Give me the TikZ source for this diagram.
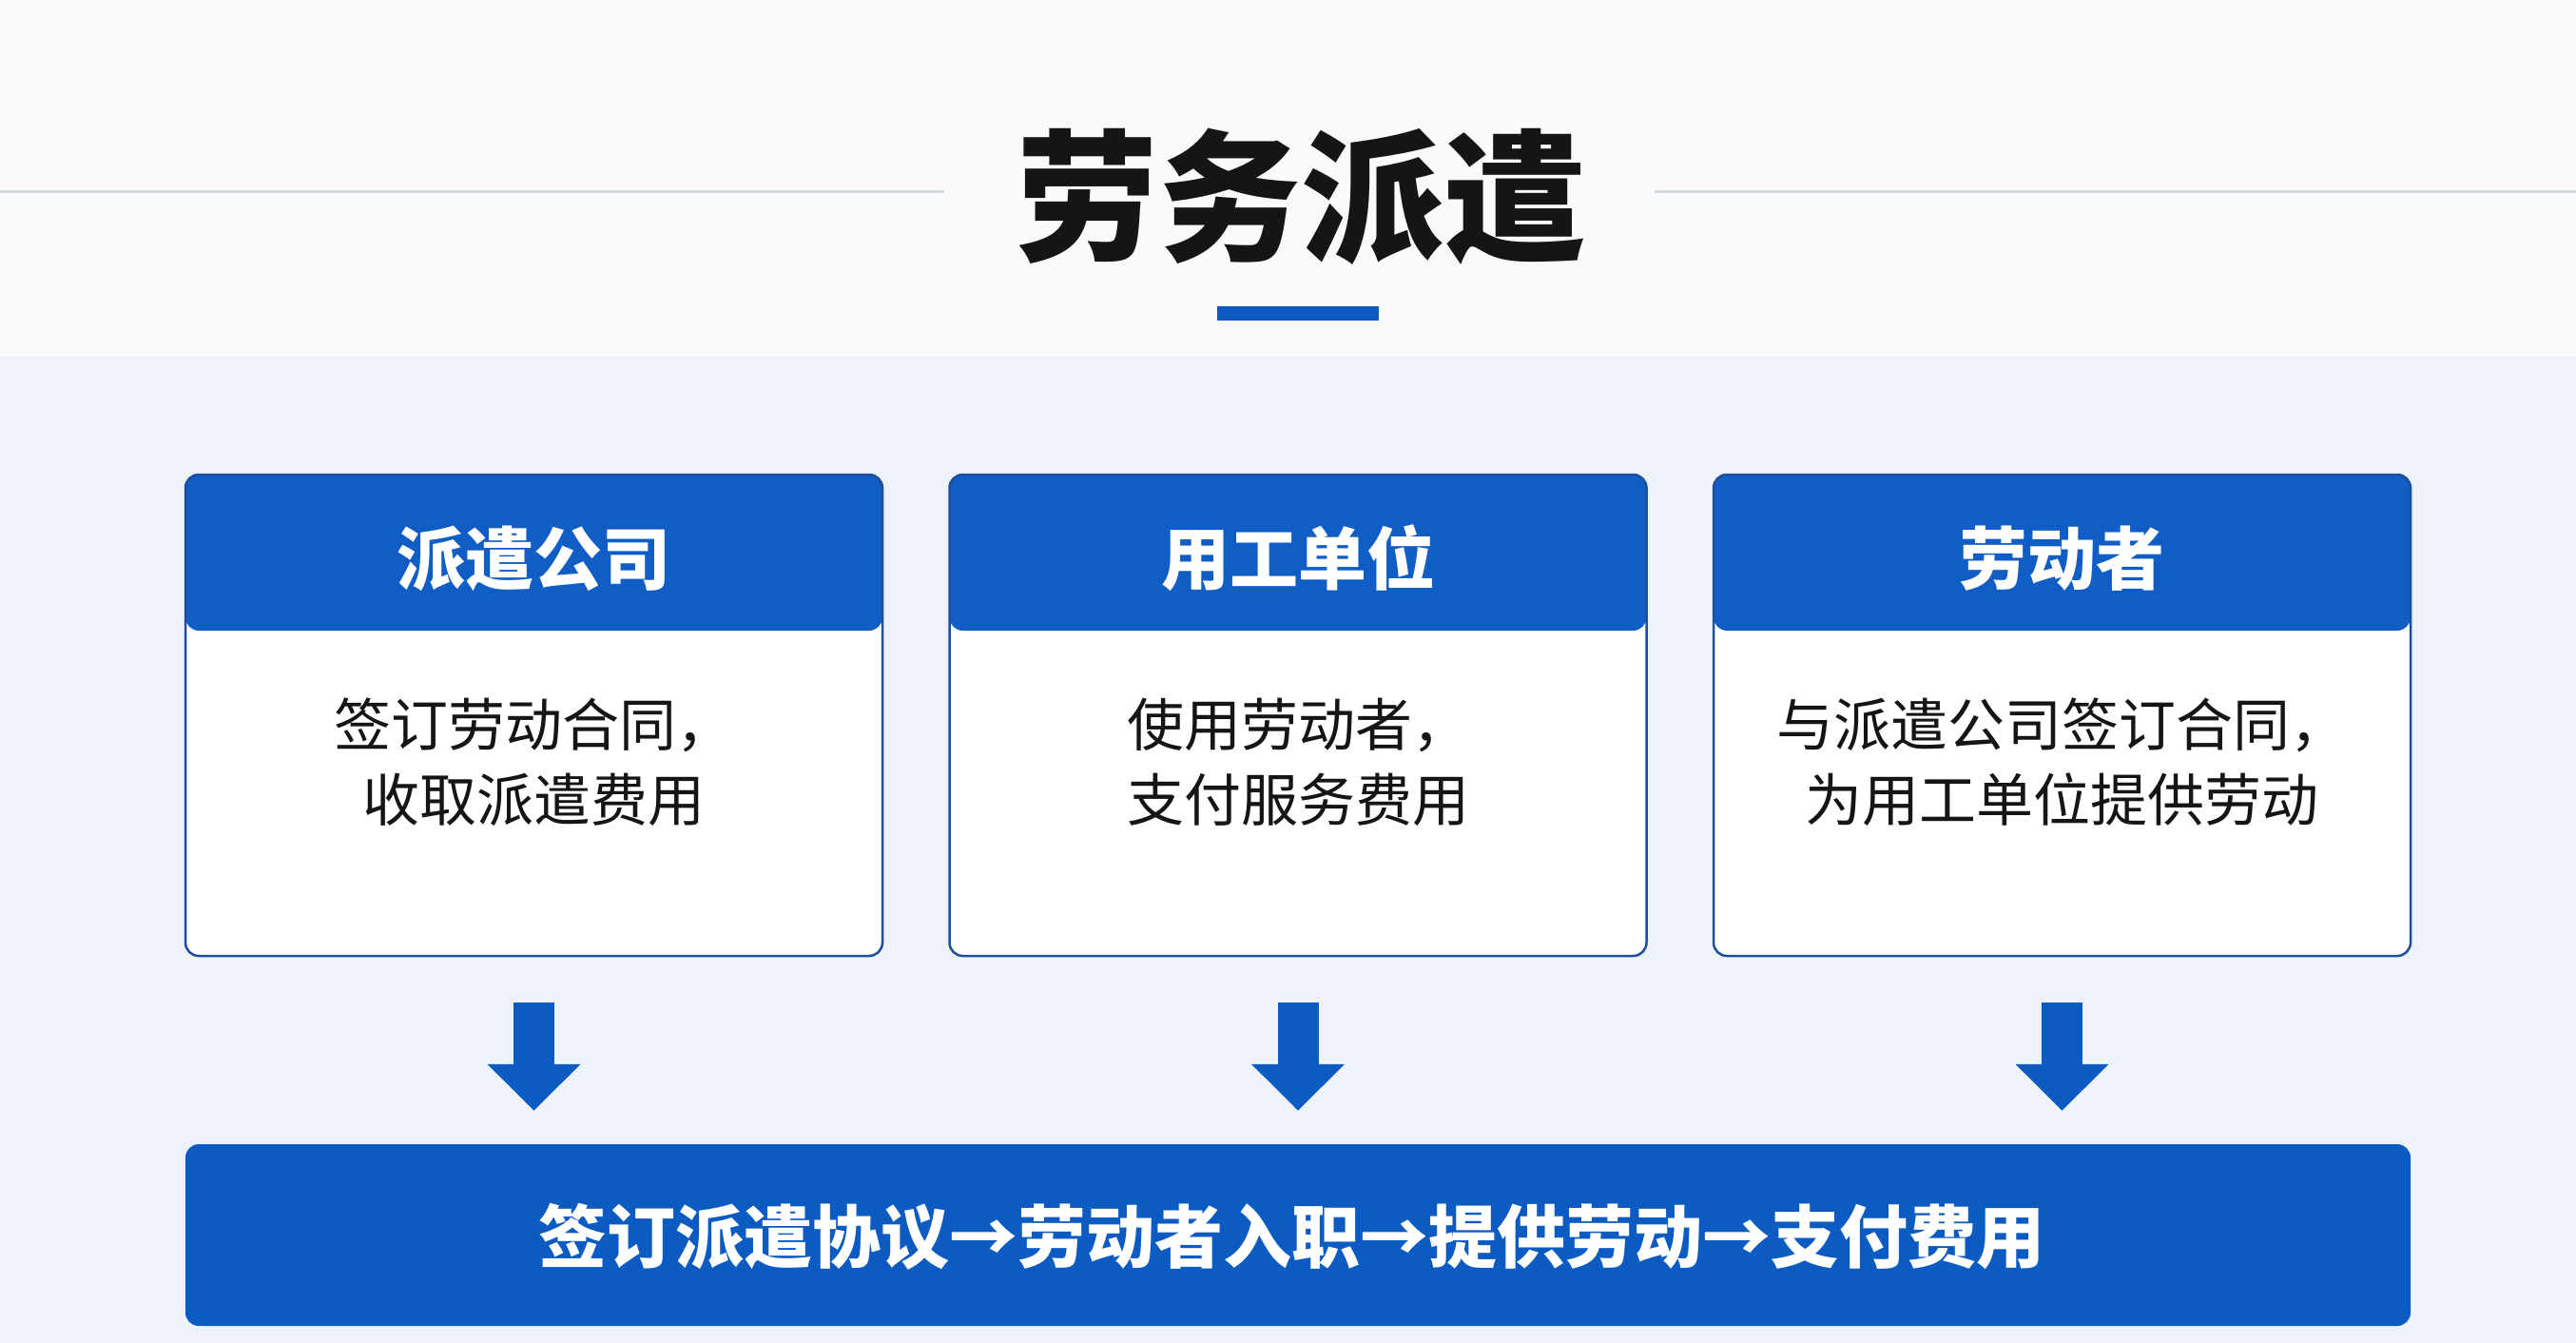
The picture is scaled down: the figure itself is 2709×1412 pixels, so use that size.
\documentclass[tikz,border=0pt]{standalone}
\usepackage{fontspec}
\newfontfamily\cjk{Noto Sans CJK SC}
\usetikzlibrary{arrows.meta}
\definecolor{topbg}{HTML}{F9FAFB}
\definecolor{mainbg}{HTML}{EEF3F9}
\definecolor{rulegray}{HTML}{D6D9DD}
\definecolor{hdrblue}{HTML}{0F5DC5}
\definecolor{barblue}{HTML}{0B5BC3}
\definecolor{edgeblue}{HTML}{1E4F9C}
\definecolor{ink}{HTML}{151515}
\tikzset{
  card/.style={draw=edgeblue, line width=2.5pt, fill=white, rounded corners=14pt,
    minimum width=733pt, minimum height=506pt, inner sep=0pt,
    path picture={\fill[hdrblue] (path picture bounding box.north west) rectangle ([yshift=-164pt]path picture bounding box.north east);}},
  hdrtext/.style={text=white, font=\cjk\bfseries\fontsize{72}{80}\selectfont, inner sep=0pt},
  bodytext/.style={text=ink, font=\cjk\fontsize{60}{79}\selectfont, align=center, inner sep=0pt},
  downarrow/.style={draw=barblue, line width=43pt, line cap=butt, -{Triangle[length=49pt,width=95pt]}, shorten >=35pt},
  flowbar/.style={fill=barblue, rounded corners=14pt, minimum width=2340pt, minimum height=191pt, inner sep=0pt},
  flowtext/.style={text=white, font=\cjk\bfseries\fontsize{72}{80}\selectfont, inner sep=0pt},
  titletext/.style={text=ink, font=\cjk\bfseries\fontsize{150}{160}\selectfont, inner sep=0pt},
}
\begin{document}
\begin{tikzpicture}[x=1pt,y=-1pt]
\useasboundingbox (0,0) rectangle (2709,1412);
\fill[topbg] (0,0) rectangle (2709,375);
\fill[mainbg] (0,375) rectangle (2709,1412);
% title
\node[titletext] (title) at (1368,207) {劳务派遣};
\coordinate (rl1) at (0,202);
\coordinate (rl2) at (993,202);
\coordinate (rr1) at (1740,202);
\coordinate (rr2) at (2709,202);
\draw[rulegray, line width=3pt] (rl1) -- (rl2);
\draw[rulegray, line width=3pt] (rr1) -- (rr2);
\fill[barblue] (1280,322) rectangle (1450,337);
% cards
\node[card] (c1) at (561.5,752) {};
\node[card] (c2) at (1365,752) {};
\node[card] (c3) at (2168.5,752) {};
\node[hdrtext] (h1) at (561.5,587) {派遣公司};
\node[hdrtext] (h2) at (1365,587) {用工单位};
\node[hdrtext] (h3) at (2168.5,587) {劳动者};
\node[bodytext] (b1) at (561.5,801.5) {签订劳动合同，\\收取派遣费用};
\node[bodytext] (b2) at (1365,801.5) {使用劳动者，\\支付服务费用};
\node[bodytext] (b3) at (2168.5,801.5) {与派遣公司签订合同，\\为用工单位提供劳动};
% bottom bar
\node[flowbar] (bar) at (1365,1298.5) {};
\node[flowtext] (flow) at (1358,1300) {签订派遣协议→劳动者入职→提供劳动→支付费用};
% arrows
\draw[downarrow] ([yshift=-48pt]c1.south) -- (c1.south |- bar.north);
\draw[downarrow] ([yshift=-48pt]c2.south) -- (c2.south |- bar.north);
\draw[downarrow] ([yshift=-48pt]c3.south) -- (c3.south |- bar.north);
\end{tikzpicture}
\end{document}
